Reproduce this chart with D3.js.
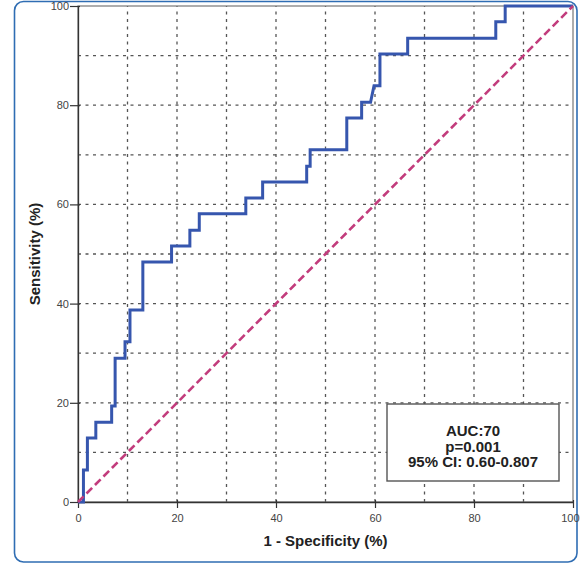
<!DOCTYPE html>
<html>
<head>
<meta charset="utf-8">
<script src="https://cdn.jsdelivr.net/npm/d3@7"></script>
<style>
  html, body { margin: 0; padding: 0; background: #ffffff; }
  svg { display: block; font-family: "Liberation Sans", Arial, sans-serif; }
</style>
</head>
<body>
<svg id="chart" width="580" height="566"></svg>
<script>
// ROC curve corner points: 1 - specificity (%) and sensitivity (%)
const fpr = [0, 1.1, 1.1, 1.9, 1.9, 3.6, 3.6, 6.8, 6.8, 7.5, 7.5, 9.5, 9.5, 10.5, 10.5, 13.1, 13.1,
             18.9, 18.9, 22.6, 22.6, 24.5, 24.5, 33.9, 33.9, 37.3, 37.3, 46.2, 46.2, 46.9, 46.9,
             54.3, 54.3, 57.3, 57.3, 59.1, 59.8, 61.0, 61.0, 66.6, 66.6, 84.4, 84.4, 86.3, 86.3, 100];
const tpr = [0, 0, 6.45, 6.45, 12.9, 12.9, 16.1, 16.1, 19.35, 19.35, 29.0, 29.0, 32.3, 32.3, 38.7, 38.7, 48.4,
             48.4, 51.6, 51.6, 54.8, 54.8, 58.1, 58.1, 61.3, 61.3, 64.5, 64.5, 67.7, 67.7, 71.0,
             71.0, 77.4, 77.4, 80.6, 80.6, 83.9, 83.9, 90.3, 90.3, 93.5, 93.5, 96.8, 96.8, 100, 100];

// Reference (chance) line
const chanceX = [0, 100];
const chanceY = [0, 100];

// Axis ticks and grid
const tickValues = [0, 20, 40, 60, 80, 100];
const gridValues = [10, 20, 30, 40, 50, 60, 70, 80, 90];

// Summary statistics shown in the box
const statLines = ["AUC:70", "p=0.001", "95% CI: 0.60-0.807"];

const xLabel = "1 - Specificity (%)";
const yLabel = "Sensitivity (%)";

const svg = d3.select("#chart");

// Outer panel frame
svg.append("rect")
  .attr("x", 14.5).attr("y", 1.5)
  .attr("width", 562.5).attr("height", 560.5)
  .attr("rx", 9).attr("ry", 9)
  .attr("fill", "#ffffff")
  .attr("stroke", "#2f6db3")
  .attr("stroke-width", 1.6);

const x = d3.scaleLinear().domain([0, 100]).range([78, 573]);
const y = d3.scaleLinear().domain([0, 100]).range([502, 6]);

// Dotted grid
const grid = svg.append("g").attr("class", "grid")
  .attr("stroke", "#555").attr("stroke-width", 1.3)
  .attr("stroke-dasharray", "3,4.5");
grid.selectAll("line.v").data(gridValues).join("line")
  .attr("class", "v")
  .attr("x1", d => x(d)).attr("x2", d => x(d))
  .attr("y1", y(0)).attr("y2", y(100));
grid.selectAll("line.h").data(gridValues).join("line")
  .attr("class", "h")
  .attr("x1", x(0)).attr("x2", x(100))
  .attr("y1", d => y(d)).attr("y2", d => y(d));

// Plot frame (top and right)
svg.append("rect")
  .attr("x", x(0)).attr("y", y(100))
  .attr("width", x(100) - x(0)).attr("height", y(0) - y(100))
  .attr("fill", "none")
  .attr("stroke", "#777").attr("stroke-width", 1.2);

// Axes
const xAxis = svg.append("g")
  .attr("transform", `translate(0,${y(0)})`)
  .call(d3.axisBottom(x).tickValues(tickValues).tickSizeInner(6).tickSizeOuter(0).tickPadding(6));
const yAxis = svg.append("g")
  .attr("transform", `translate(${x(0)},0)`)
  .call(d3.axisLeft(y).tickValues(tickValues).tickSizeInner(8).tickSizeOuter(0).tickPadding(1));

[xAxis, yAxis].forEach(g => {
  g.select(".domain").attr("stroke", "#333").attr("stroke-width", 1.3);
  g.selectAll(".tick line").attr("stroke", "#333").attr("stroke-width", 1.2);
  g.selectAll(".tick text")
    .attr("font-family", "Liberation Sans, Arial, sans-serif")
    .attr("font-size", 11)
    .attr("fill", "#444");
});
// ticks cross slightly into the plot
xAxis.selectAll(".tick line").attr("y1", -2);
yAxis.selectAll(".tick line").attr("x1", 2);
// keep the last x label inside the panel
xAxis.selectAll(".tick text").filter(d => d === 100).attr("text-anchor", "end").attr("dx", 6);

// ROC curve
const rocPoints = fpr.map((v, i) => [v, tpr[i]]);
const line = d3.line().x(d => x(d[0])).y(d => y(d[1]));
svg.append("path")
  .datum(rocPoints)
  .attr("d", line)
  .attr("fill", "none")
  .attr("stroke", "#3656ae")
  .attr("stroke-width", 3)
  .attr("stroke-linejoin", "miter");

// Chance diagonal
svg.append("path")
  .datum(chanceX.map((v, i) => [v, chanceY[i]]))
  .attr("d", line)
  .attr("fill", "none")
  .attr("stroke", "#c23c7c")
  .attr("stroke-width", 2.6)
  .attr("stroke-dasharray", "8,4");

// Statistics box
const box = svg.append("g");
box.append("rect")
  .attr("x", 387).attr("y", 404)
  .attr("width", 172).attr("height", 77)
  .attr("fill", "#ffffff")
  .attr("stroke", "#555").attr("stroke-width", 1.4);
box.selectAll("text").data(statLines).join("text")
  .attr("x", 473)
  .attr("y", (d, i) => 436 + i * 15.5)
  .attr("text-anchor", "middle")
  .attr("font-size", 15)
  .attr("font-weight", "bold")
  .attr("fill", "#222")
  .text(d => d);

// Axis titles
svg.append("text")
  .attr("x", (x(0) + x(100)) / 2)
  .attr("y", 546)
  .attr("text-anchor", "middle")
  .attr("font-size", 15)
  .attr("font-weight", "bold")
  .attr("fill", "#222")
  .text(xLabel);

svg.append("text")
  .attr("transform", `translate(40,${(y(0) + y(100)) / 2}) rotate(-90)`)
  .attr("text-anchor", "middle")
  .attr("font-size", 15)
  .attr("font-weight", "bold")
  .attr("fill", "#222")
  .text(yLabel);
</script>
</body>
</html>
